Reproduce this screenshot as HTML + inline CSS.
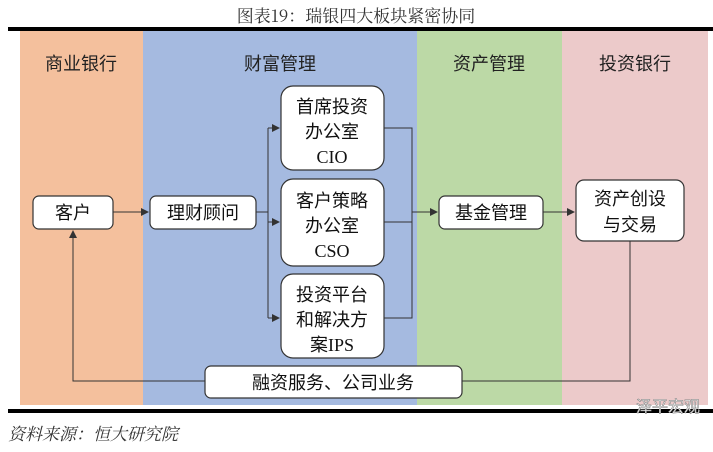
<!DOCTYPE html>
<html><head><meta charset="utf-8"><style>
body{margin:0;width:713px;height:447px;background:#fff;overflow:hidden;font-family:"Liberation Sans","Noto Sans CJK SC",sans-serif}
</style></head><body>
<svg width="713" height="447" xmlns="http://www.w3.org/2000/svg" font-family="'Liberation Sans','Noto Sans CJK SC',sans-serif">
<defs><marker id="a" markerWidth="8" markerHeight="8" refX="7" refY="4" orient="auto" markerUnits="userSpaceOnUse"><path d="M0,0L8,4L0,8z" fill="#333"/></marker></defs>
<text x="356" y="22" text-anchor="middle" font-size="17" font-family="'Noto Serif CJK SC',serif" fill="#333">图表19：瑞银四大板块紧密协同</text>
<rect x="8" y="27" width="705" height="4" fill="#000"/>
<rect x="20" y="31" width="123" height="374" fill="#f4c09d"/>
<rect x="143" y="31" width="274" height="374" fill="#a5bae0"/>
<rect x="417" y="31" width="145" height="374" fill="#bcd9a6"/>
<rect x="562" y="31" width="146" height="374" fill="#eccaca"/>
<g font-size="18" fill="#222" text-anchor="middle">
<text x="81" y="70">商业银行</text><text x="280" y="70">财富管理</text><text x="489" y="70">资产管理</text><text x="635" y="70">投资银行</text></g>
<g fill="none" stroke="#333" stroke-width="1">
<path d="M113,212H148" marker-end="url(#a)"/>
<path d="M256,212H268M268,128V318"/>
<path d="M268,128H279" marker-end="url(#a)"/><path d="M268,222H279" marker-end="url(#a)"/><path d="M268,318H279" marker-end="url(#a)"/>
<path d="M384,128H412V318H384M384,222H412"/>
<path d="M412,212H437" marker-end="url(#a)"/>
<path d="M543,212H574" marker-end="url(#a)"/>
<path d="M630,241V381H462M205,381H73V231" marker-end="url(#a)"/>
</g>
<g fill="#fff" stroke="#333" stroke-width="1.2">
<rect x="33" y="196" width="80" height="33" rx="6"/>
<rect x="150" y="196" width="106" height="33" rx="6"/>
<rect x="281" y="86" width="103" height="84" rx="12"/>
<rect x="281" y="179" width="103" height="87" rx="12"/>
<rect x="281" y="274" width="103" height="84" rx="12"/>
<rect x="439" y="196" width="104" height="33" rx="6"/>
<rect x="576" y="180" width="108" height="61" rx="8"/>
<rect x="205" y="366" width="257" height="32" rx="6"/>
</g>
<g font-size="18" fill="#111" text-anchor="middle">
<text x="73" y="219">客户</text><text x="203" y="219">理财顾问</text>
<text x="332" y="113">首席投资</text><text x="332" y="138">办公室</text><text x="332" y="163" font-family="'Liberation Serif',serif">CIO</text>
<text x="332" y="207">客户策略</text><text x="332" y="232">办公室</text><text x="332" y="257" font-family="'Liberation Serif',serif">CSO</text>
<text x="332" y="301">投资平台</text><text x="332" y="326">和解决方</text><text x="332" y="351">案<tspan font-family="'Liberation Serif',serif">IPS</tspan></text>
<text x="491" y="219">基金管理</text>
<text x="630" y="205">资产创设</text><text x="630" y="231">与交易</text>
<text x="333" y="389">融资服务、公司业务</text></g>
<rect x="8" y="409" width="705" height="4" fill="#000"/>
<text x="8" y="440" font-size="17" font-style="italic" fill="#333" font-family="'Noto Serif CJK SC',serif">资料来源：恒大研究院</text>
<text x="700" y="412" font-size="16" fill="#fff" stroke="#888" stroke-width="0.6" text-anchor="end">泽平宏观</text>
</svg>
</body></html>
